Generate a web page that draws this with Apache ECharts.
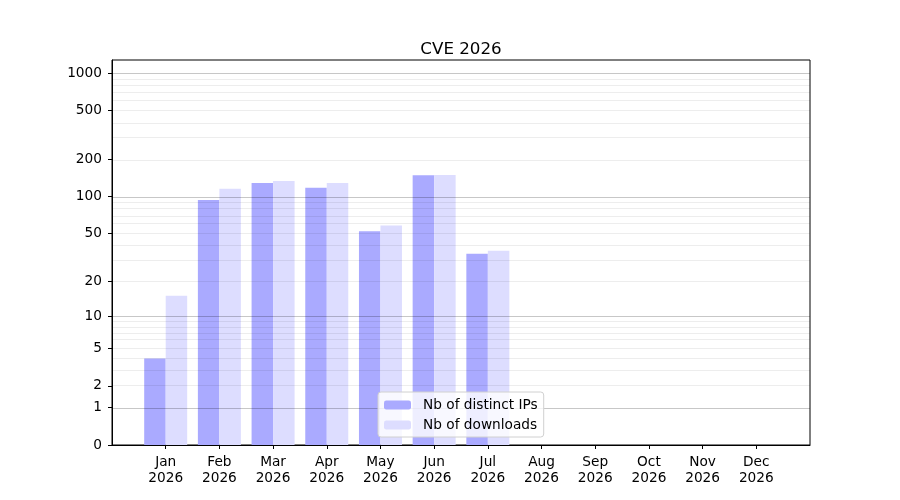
<!doctype html>
<html>
<head>
    <meta charset="UTF-8">
    <title>CVE 2026</title>
    <script src="https://cdn.jsdelivr.net/npm/echarts@6/dist/echarts.min.js"></script>
    <style>
        html, body { margin: 0; padding: 0; background: #fff; }
        #main { width: 900px; height: 500px; }
    </style>
</head>
<body>
    <div id="main"></div>
    <script>
        var months = ['Jan', 'Feb', 'Mar', 'Apr', 'May', 'Jun', 'Jul', 'Aug', 'Sep', 'Oct', 'Nov', 'Dec'];
        var year = '2026';
        var distinctIPs = [4, 94, 129, 118, 52, 149, 34, 0, 0, 0, 0, 0];
        var downloads = [15, 116, 134, 129, 58, 150, 36, 0, 0, 0, 0, 0];
        var yTicks = [0, 1, 2, 5, 10, 20, 50, 100, 200, 500, 1000];
        var majorGrid = [1, 10, 100, 1000];
        var minorGrid = [2, 3, 4, 5, 6, 7, 8, 9, 20, 30, 40, 50, 60, 70, 80, 90,
                         200, 300, 400, 500, 600, 700, 800, 900];

        // symlog-like scale: plot log10(v + 1)
        function tr(v) { return Math.log10(v + 1); }
        function pad(arr) { return ['-'].concat(arr.map(tr), ['-']); }

        var font = 'DejaVu Sans';
        var fs = 13.7;
        var cats = [''].concat(months.map(function (m) { return m + '\n' + year; }), ['']);

        var gridLines = majorGrid.map(function (v) {
            return { yAxis: tr(v), lineStyle: { color: 'rgba(0,0,0,0.22)', width: 1, type: 'solid' } };
        }).concat(minorGrid.map(function (v) {
            return { yAxis: tr(v), lineStyle: { color: 'rgba(0,0,0,0.07)', width: 1, type: 'solid' } };
        }));

        var myChart = echarts.init(document.getElementById('main'));
        myChart.setOption({
            animation: false,
            title: {
                text: 'CVE 2026',
                left: 456,
                textAlign: 'center',
                top: 36,
                textStyle: { fontFamily: font, fontSize: 16.7, fontWeight: 'normal', color: '#000' }
            },
            grid: {
                left: 112, right: 90, top: 60, bottom: 55,
                show: true, borderColor: '#000', borderWidth: 1, backgroundColor: 'transparent'
            },
            legend: {
                orient: 'vertical',
                left: 378,
                top: 392,
                itemWidth: 27,
                itemHeight: 9,
                itemGap: 6,
                padding: [6, 6, 5, 6],
                backgroundColor: 'rgba(255,255,255,0.8)',
                borderColor: '#d0d0d0',
                borderWidth: 1,
                borderRadius: 3,
                textStyle: { fontFamily: font, fontSize: fs, color: '#000', padding: [0, 0, 0, 7] },
                data: ['Nb of distinct IPs', 'Nb of downloads'],
                z: 10
            },
            xAxis: {
                type: 'category',
                boundaryGap: false,
                data: cats,
                axisLine: { lineStyle: { color: '#000', width: 1 } },
                axisTick: {
                    inside: false, length: 4,
                    interval: function (i) { return i > 0 && i < cats.length - 1; },
                    lineStyle: { color: '#000' }
                },
                axisLabel: {
                    interval: 0, margin: 9,
                    fontFamily: font, fontSize: fs, color: '#000', lineHeight: 16
                },
                splitLine: { show: false }
            },
            yAxis: {
                type: 'value',
                min: 0,
                max: 3.107,
                axisLine: { show: true, lineStyle: { color: '#000', width: 1 } },
                axisTick: {
                    show: true, length: 4,
                    customValues: yTicks.map(tr),
                    lineStyle: { color: '#000' }
                },
                axisLabel: {
                    customValues: yTicks.map(tr),
                    margin: 10,
                    padding: [2, 0, 0, 0],
                    fontFamily: font, fontSize: fs, color: '#000',
                    formatter: function (v) { return String(Math.round(Math.pow(10, v) - 1)); }
                },
                splitLine: { show: false }
            },
            series: [
                {
                    name: 'Nb of distinct IPs',
                    type: 'bar',
                    data: pad(distinctIPs),
                    barWidth: 21.5,
                    barGap: '0%',
                    itemStyle: { color: '#aaaaff' }
                },
                {
                    name: 'Nb of downloads',
                    type: 'bar',
                    data: pad(downloads),
                    barWidth: 21.5,
                    barGap: '0%',
                    itemStyle: { color: '#ddddff' },
                    markLine: {
                        silent: true,
                        symbol: 'none',
                        label: { show: false },
                        animation: false,
                        data: gridLines
                    }
                }
            ]
        });
    </script>
</body>
</html>
